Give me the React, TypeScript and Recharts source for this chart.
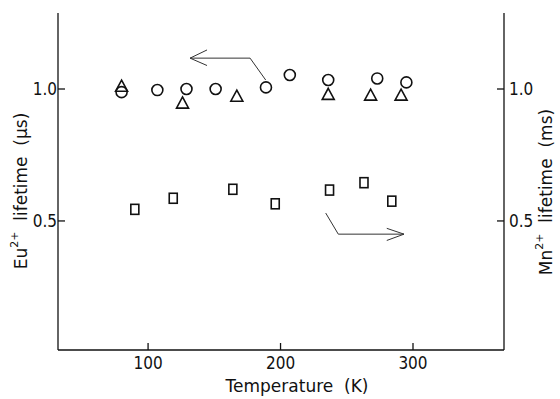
import { ReferenceLine, Scatter, ScatterChart, XAxis, YAxis } from "recharts";

// Eu2+ lifetime, circles (left axis, µs)
const circleTemp = [80, 107, 129, 151, 189, 207, 236, 273, 295];
const circleLife = [0.988, 0.996, 1.0, 1.0, 1.006, 1.053, 1.034, 1.04, 1.025];
// Eu2+ lifetime, triangles (left axis, µs)
const triangleTemp = [80, 126, 167, 236, 268, 291];
const triangleLife = [1.011, 0.947, 0.973, 0.98, 0.977, 0.977];
// Mn2+ lifetime, squares (right axis, ms)
const squareTemp = [90, 119, 164, 196, 237, 263, 284];
const squareLife = [0.544, 0.586, 0.62, 0.565, 0.617, 0.645, 0.575];

const xTicks = [100, 200, 300];
const yTicks = [0.5, 1.0];
const xDomain: [number, number] = [32, 368.7];
const yDomain: [number, number] = [0.011, 1.288];

// annotation arrows, in data units (left axis)
const leftArrow = [
  [188.8, 1.034, 177, 1.117],
  [177, 1.117, 131.7, 1.117],
  [131.7, 1.117, 144.5, 1.148],
  [131.7, 1.117, 144.5, 1.089],
];
const rightArrow = [
  [234.1, 0.53, 243.6, 0.45],
  [243.6, 0.45, 293.2, 0.45],
  [293.2, 0.45, 280.2, 0.472],
  [293.2, 0.45, 280.2, 0.426],
];

const toPoints = (xs: number[], ys: number[]) => xs.map((x, i) => ({ x, y: ys[i] }));

const ink = "#111";
const tickStyle = {
  fontSize: 17,
  fill: ink,
  fontFamily: "'Liberation Sans Narrow', 'DejaVu Sans Condensed', sans-serif",
};
const labelFont = "'DejaVu Sans', sans-serif";

function CircleMark({ cx, cy }: any) {
  return <circle cx={cx} cy={cy} r={5.5} fill="none" stroke={ink} strokeWidth={1.6} />;
}

function TriangleMark({ cx, cy }: any) {
  const s = 6;
  return (
    <path
      d={`M${cx},${cy - s} L${cx + s},${cy + s * 0.85} L${cx - s},${cy + s * 0.85} Z`}
      fill="none"
      stroke={ink}
      strokeWidth={1.6}
      strokeLinejoin="miter"
    />
  );
}

function SquareMark({ cx, cy }: any) {
  return <rect x={cx - 4} y={cy - 5} width={8} height={10} fill="none" stroke={ink} strokeWidth={1.6} />;
}

function XLabel({ viewBox }: any) {
  return (
    <text
      x={viewBox.x + viewBox.width / 2 + 16}
      y={viewBox.y + 42}
      textAnchor="middle"
      fontSize={17}
      fontFamily={labelFont}
      fill={ink}
      style={{ whiteSpace: "pre" }}
    >
      Temperature  (K)
    </text>
  );
}

function SideLabel({ cx, cy, ion, unit }: any) {
  return (
    <text
      x={cx}
      y={cy}
      transform={`rotate(-90 ${cx} ${cy})`}
      textAnchor="middle"
      dominantBaseline="central"
      fontSize={17}
      fontFamily={labelFont}
      fill={ink}
      style={{ whiteSpace: "pre" }}
    >
      {ion}
      <tspan dy={-7} fontSize={11}>2+</tspan>
      <tspan dy={7}>{`  lifetime  (${unit})`}</tspan>
    </text>
  );
}

export default function App() {
  return (
    <div style={{ width: 560, height: 399, background: "#fff" }}>
      <style>{`body{margin:0}`}</style>
      <ScatterChart width={560} height={399} margin={{ top: 13, right: 0, bottom: 0, left: 0 }}>
        <XAxis
          xAxisId="bottom"
          type="number"
          dataKey="x"
          domain={xDomain}
          ticks={xTicks}
          allowDataOverflow
          height={49}
          stroke={ink}
          strokeWidth={1.3}
          tickSize={-7}
          tickMargin={14}
          tick={tickStyle}
          label={<XLabel />}
        />
        <XAxis
          xAxisId="top"
          orientation="top"
          type="number"
          dataKey="x"
          domain={xDomain}
          ticks={xTicks}
          allowDataOverflow
          height={0}
          stroke={ink}
          strokeWidth={1.3}
          tickSize={-7}
          tick={false}
        />
        <YAxis
          yAxisId="left"
          type="number"
          dataKey="y"
          domain={yDomain}
          ticks={yTicks}
          allowDataOverflow
          width={58}
          stroke={ink}
          strokeWidth={1.3}
          tickSize={-7}
          tickMargin={8}
          tick={tickStyle}
          tickFormatter={(v: number) => v.toFixed(1)}
          label={<SideLabel cx={21} cy={191} ion="Eu" unit="µs" />}
        />
        <YAxis
          yAxisId="right"
          orientation="right"
          type="number"
          dataKey="y"
          domain={yDomain}
          ticks={yTicks}
          allowDataOverflow
          width={56}
          stroke={ink}
          strokeWidth={1.3}
          tickSize={-7}
          tickMargin={12}
          tick={tickStyle}
          tickFormatter={(v: number) => v.toFixed(1)}
          label={<SideLabel cx={546} cy={192} ion="Mn" unit="ms" />}
        />
        {[...leftArrow, ...rightArrow].map(([x1, y1, x2, y2], i) => (
          <ReferenceLine
            key={i}
            xAxisId="bottom"
            yAxisId="left"
            segment={[
              { x: x1, y: y1 },
              { x: x2, y: y2 },
            ]}
            stroke="#333"
            strokeWidth={1}
          />
        ))}
        <Scatter
          xAxisId="bottom"
          yAxisId="left"
          data={toPoints(circleTemp, circleLife)}
          shape={<CircleMark />}
          isAnimationActive={false}
        />
        <Scatter
          xAxisId="bottom"
          yAxisId="left"
          data={toPoints(triangleTemp, triangleLife)}
          shape={<TriangleMark />}
          isAnimationActive={false}
        />
        <Scatter
          xAxisId="bottom"
          yAxisId="right"
          data={toPoints(squareTemp, squareLife)}
          shape={<SquareMark />}
          isAnimationActive={false}
        />
      </ScatterChart>
    </div>
  );
}
